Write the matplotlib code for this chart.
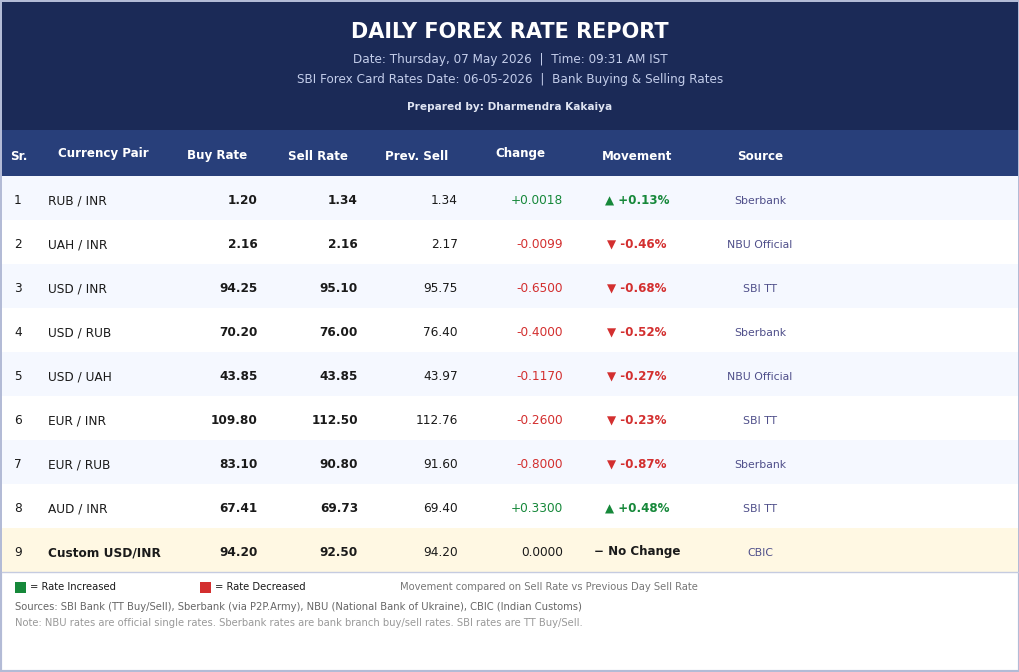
import matplotlib.pyplot as plt
from matplotlib.patches import Rectangle

# table data
serial = [1, 2, 3, 4, 5, 6, 7, 8, 9]
pairs = ["RUB / INR", "UAH / INR", "USD / INR", "USD / RUB", "USD / UAH",
         "EUR / INR", "EUR / RUB", "AUD / INR", "Custom USD/INR"]
buy_rate = [1.20, 2.16, 94.25, 70.20, 43.85, 109.80, 83.10, 67.41, 94.20]
sell_rate = [1.34, 2.16, 95.10, 76.00, 43.85, 112.50, 90.80, 69.73, 92.50]
prev_sell = [1.34, 2.17, 95.75, 76.40, 43.97, 112.76, 91.60, 69.40, 94.20]
change = [0.0018, -0.0099, -0.6500, -0.4000, -0.1170, -0.2600, -0.8000, 0.3300, 0.0]
movement_pct = [0.13, -0.46, -0.68, -0.52, -0.27, -0.23, -0.87, 0.48, 0.0]
sources = ["Sberbank", "NBU Official", "SBI TT", "Sberbank", "NBU Official",
           "SBI TT", "Sberbank", "SBI TT", "CBIC"]
headers = ["Sr.", "Currency Pair", "Buy Rate", "Sell Rate", "Prev. Sell",
           "Change", "Movement", "Source"]

NAVY = "#1b2a57"
HEAD = "#283f7a"
GREEN = "#16883a"
RED = "#d32f2f"
DARK = "#1a1a1a"
FS = 8.7

fig = plt.figure(figsize=(10.2, 6.72), dpi=100)
ax = fig.add_axes([0, 0, 1, 1])
ax.set_xlim(0, 1020)
ax.set_ylim(672, 0)
ax.axis("off")

ax.add_patch(Rectangle((0, 0), 1020, 672, facecolor="white", edgecolor="#b3bbd6", lw=3))
ax.add_patch(Rectangle((2, 2), 1016, 128, facecolor=NAVY, edgecolor="none"))
ax.add_patch(Rectangle((2, 130), 1016, 46, facecolor=HEAD, edgecolor="none"))

ax.text(510, 32, "DAILY FOREX RATE REPORT", color="white", fontsize=15, fontweight="bold",
        ha="center", va="center")
ax.text(510, 60, "Date: Thursday, 07 May 2026  |  Time: 09:31 AM IST", color="#c3cdea",
        fontsize=8.65, ha="center", va="center")
ax.text(510, 80, "SBI Forex Card Rates Date: 06-05-2026  |  Bank Buying & Selling Rates",
        color="#c3cdea", fontsize=8.65, ha="center", va="center")
ax.text(510, 107, "Prepared by: Dharmendra Kakaiya", color="#dfe4f2", fontsize=7.6,
        fontweight="bold", ha="center", va="center")

head_x = [10, 103, 217, 318, 417, 520, 637, 760]
head_y = [156, 154, 155, 156, 156, 154, 156, 156]
head_ha = ["left", "center", "center", "center", "center", "center", "center", "center"]
for h, x, y, a in zip(headers, head_x, head_y, head_ha):
    ax.text(x, y, h, color="white", fontsize=8.6, fontweight="bold", ha=a, va="center")

row_h = 44
top = 176
for i in range(len(pairs)):
    y0 = top + i * row_h
    yc = y0 + row_h / 2 + 3
    last = i == len(pairs) - 1
    bg = "#fff8e3" if last else ("#f5f8ff" if i % 2 == 0 else "white")
    ax.add_patch(Rectangle((2, y0), 1016, row_h, facecolor=bg, edgecolor="none"))

    ax.text(18, yc, str(serial[i]), color=DARK, fontsize=FS, ha="center", va="center")
    ax.text(48, yc, pairs[i], color=DARK, fontsize=FS, ha="left", va="center",
            fontweight="bold" if last else "normal")
    ax.text(258, yc, f"{buy_rate[i]:.2f}", color=DARK, fontsize=FS, ha="right",
            va="center", fontweight="bold")
    ax.text(358, yc, f"{sell_rate[i]:.2f}", color=DARK, fontsize=FS, ha="right",
            va="center", fontweight="bold")
    ax.text(458, yc, f"{prev_sell[i]:.2f}", color=DARK, fontsize=FS, ha="right", va="center")

    if change[i] > 0:
        col, arrow, ctxt = GREEN, "\u25b2", f"+{change[i]:.4f}"
        mtxt = f"{arrow} +{movement_pct[i]:.2f}%"
    elif change[i] < 0:
        col, arrow, ctxt = RED, "\u25bc", f"{change[i]:.4f}"
        mtxt = f"{arrow} {movement_pct[i]:.2f}%"
    else:
        col, ctxt = DARK, "0.0000"
        mtxt = "\u2212 No Change"
    ax.text(563, yc, ctxt, color=col, fontsize=FS, ha="right", va="center")
    ax.text(637, yc - 1, mtxt, color=col, fontsize=8.6, ha="center", va="center",
            fontweight="bold")
    ax.text(760, yc, sources[i], color="#4f4f8a", fontsize=7.8, ha="center", va="center")

ax.plot([2, 1018], [572, 572], color="#c5cbe0", lw=1)

ax.add_patch(Rectangle((15, 582), 11, 11, facecolor=GREEN, edgecolor="none"))
ax.text(30, 587.5, "= Rate Increased", color=DARK, fontsize=7.2, ha="left", va="center")
ax.add_patch(Rectangle((200, 582), 11, 11, facecolor=RED, edgecolor="none"))
ax.text(215, 587.5, "= Rate Decreased", color=DARK, fontsize=7.2, ha="left", va="center")
ax.text(400, 587.5, "Movement compared on Sell Rate vs Previous Day Sell Rate", color="#777777",
        fontsize=7.2, ha="left", va="center")
ax.text(15, 607, "Sources: SBI Bank (TT Buy/Sell), Sberbank (via P2P.Army), NBU (National Bank of "
        "Ukraine), CBIC (Indian Customs)", color="#666666", fontsize=7.2, ha="left", va="center")
ax.text(15, 623, "Note: NBU rates are official single rates. Sberbank rates are bank branch "
        "buy/sell rates. SBI rates are TT Buy/Sell.", color="#999999", fontsize=7.2,
        ha="left", va="center")

fig.savefig("out.png", dpi=100)
